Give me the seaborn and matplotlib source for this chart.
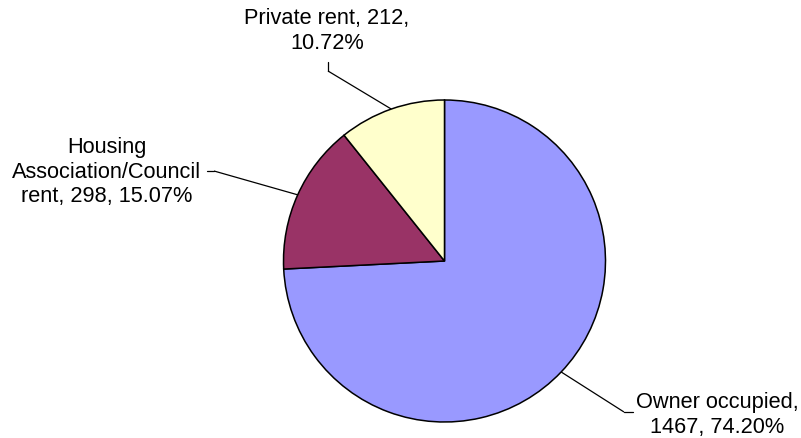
import numpy as np
import matplotlib
matplotlib.use("Agg")
import matplotlib.pyplot as plt
import seaborn as sns

# Household tenure counts
categories = ["Owner occupied", "Housing Association/Council rent", "Private rent"]
counts = [1467, 298, 212]
colors = ["#9999FF", "#993366", "#FFFFCC"]

# Label text layout (multi-line wording and placement in pixel space)
label_text = [
    "Owner occupied,\n{n}, {p:.2f}%",
    "Housing\nAssociation/Council\nrent, {n}, {p:.2f}%",
    "Private rent, {n},\n{p:.2f}%",
]
label_pos = [(717, 415), (107, 172), (327, 31)]
elbow_pos = [(624, 413), (214, 172), (328, 72)]
text_ha = ["center", "center", "center"]

sns.set_theme(style="white")
plt.rcParams["font.family"] = ["Liberation Sans", "DejaVu Sans"]

W, H = 801, 439
fig = plt.figure(figsize=(W / 100, H / 100), dpi=100)
ax = fig.add_axes([0, 0, 1, 1])
ax.set_xlim(0, W)
ax.set_ylim(0, H)
ax.axis("off")

cx, cy, r = 444.5, H - 262, 161
wedges, _ = ax.pie(
    counts,
    colors=colors,
    startangle=90,
    counterclock=False,
    center=(cx, cy),
    radius=r,
    frame=True,
    wedgeprops=dict(edgecolor="black", linewidth=1.1),
)
ax.set_xlim(0, W)
ax.set_ylim(0, H)
ax.axis("off")

total = sum(counts)
for w, n, tmpl, (tx, ty), (ex, ey), ha in zip(wedges, counts, label_text, label_pos, elbow_pos, text_ha):
    mid = np.deg2rad((w.theta1 + w.theta2) / 2)
    px, py = cx + r * np.cos(mid), cy + r * np.sin(mid)
    ax.plot([px, ex], [py, H - ey], color="black", lw=0.9, solid_capstyle="butt")
    pct = 100 * n / total
    ax.text(tx, H - ty, tmpl.format(n=n, p=pct), ha=ha, va="center",
            fontsize=15.7, color="black", linespacing=1.2)

# short horizontal stubs linking leader lines to the text blocks
stubs = [((624, 413), (633, 413)), ((207, 172), (214, 172)), ((328, 63), (328, 72))]
for (x0, y0), (x1, y1) in stubs:
    ax.plot([x0, x1], [H - y0, H - y1], color="black", lw=0.9)

fig.savefig("out.png", dpi=100, facecolor="white")
